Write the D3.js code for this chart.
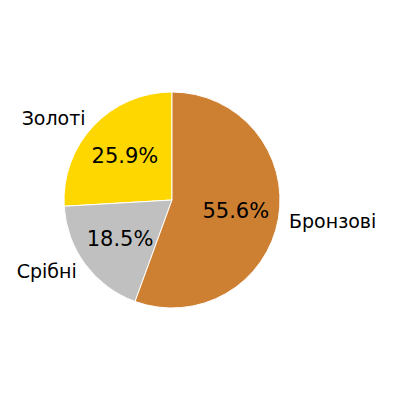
<!DOCTYPE html>
<html lang="uk">
<head>
<meta charset="utf-8">
<script src="https://d3js.org/d3.v7.min.js"></script>
<style>
  body { margin: 0; background: #fff; }
  text { font-family: "DejaVu Sans", sans-serif; fill: #000; }
</style>
</head>
<body>
<script>
// Data
var labels = ["Золоті", "Срібні", "Бронзові"];
var values = [7, 5, 15];
var colors = ["#FFD700", "#C0C0C0", "#CD7F32"];

var w = 400, h = 400;
var cx = 172, cy = 200, r = 108;

var svg = d3.select("body").append("svg")
  .attr("width", w)
  .attr("height", h);

var g = svg.append("g").attr("transform", "translate(" + cx + "," + cy + ")");

// counterclockwise from 12 o'clock
var pie = d3.pie().sort(null).startAngle(0).endAngle(-2 * Math.PI);
var arcs = pie(values);
var total = d3.sum(values);

var arc = d3.arc().innerRadius(0).outerRadius(r);

g.selectAll("path")
  .data(arcs)
  .enter()
  .append("path")
  .attr("d", arc)
  .attr("fill", function(d, i) { return colors[i]; })
  .attr("stroke", "#fff")
  .attr("stroke-width", 1);

function mid(d) { return (d.startAngle + d.endAngle) / 2; }

// Category labels
g.selectAll("text.lbl")
  .data(arcs)
  .enter()
  .append("text")
  .attr("class", "lbl")
  .attr("x", function(d) { return Math.sin(mid(d)) * r * 1.1; })
  .attr("y", function(d) { return -Math.cos(mid(d)) * r * 1.1; })
  .attr("text-anchor", function(d) { return Math.sin(mid(d)) > 0 ? "start" : "end"; })
  .attr("dominant-baseline", "central")
  .attr("font-size", "19px")
  .text(function(d, i) { return labels[i]; });

// Percentages
g.selectAll("text.pct")
  .data(arcs)
  .enter()
  .append("text")
  .attr("class", "pct")
  .attr("x", function(d) { return Math.sin(mid(d)) * r * 0.6; })
  .attr("y", function(d) { return -Math.cos(mid(d)) * r * 0.6; })
  .attr("text-anchor", "middle")
  .attr("dominant-baseline", "central")
  .attr("font-size", "21px")
  .text(function(d) { return (d.value / total * 100).toFixed(1) + "%"; });
</script>
</body>
</html>
